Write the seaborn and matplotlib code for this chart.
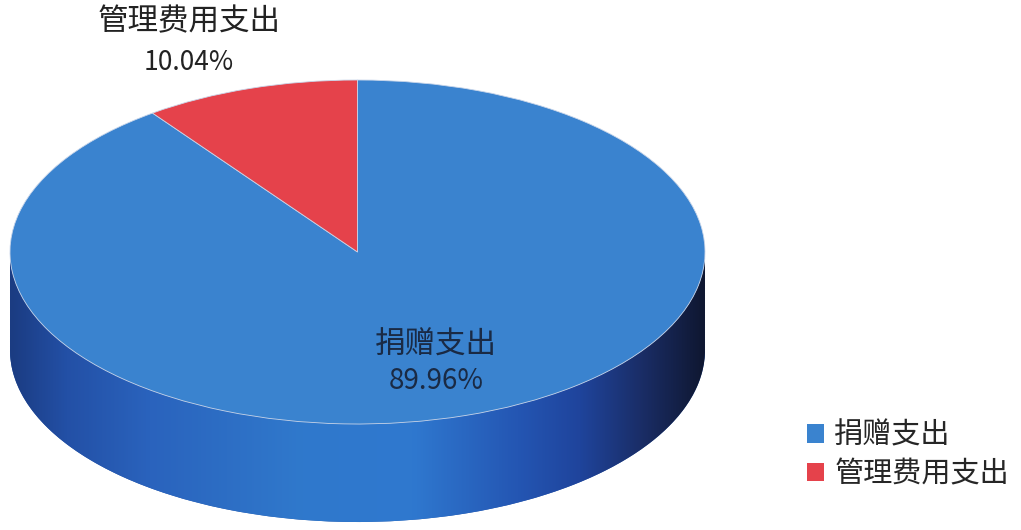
import numpy as np
import seaborn as sns
import matplotlib.pyplot as plt
from matplotlib.path import Path
from matplotlib.colors import LinearSegmentedColormap

# Data
categories = ["捐赠支出", "管理费用支出"]
shares = [89.96, 10.04]
colors = ["#3a83cf", "#e5424b"]

sns.set_theme(style="white")
plt.rcParams['font.family'] = ['Noto Sans CJK SC', 'DejaVu Sans']

W, H = 1021, 530
fig = plt.figure(figsize=(W / 100, H / 100), dpi=100)
ax = fig.add_axes([0, 0, 1, 1])

# pixel-based layout; y squashed so the pie becomes an ellipse
cx, cy_px = 357.5, 252
rx, ry = 347.5, 172
depth_px = 98
k = ry / rx


def ypx(py):
    return (H - py) / k


cy = ypx(cy_px)
depth = depth_px / k

# side of the cylinder: stacked pies from the same data
n_layers = 40
for i in range(n_layers, 0, -1):
    off = depth * i / n_layers
    ax.pie(shares, colors=["#2456a8", "#a02a30"], startangle=90, counterclock=False,
           radius=rx, center=(cx, cy - off), frame=True,
           wedgeprops=dict(linewidth=0, antialiased=True))

# shading of the visible side band
t = np.linspace(np.pi, 2 * np.pi, 200)
top_arc = np.column_stack([cx + rx * np.cos(t), cy + rx * np.sin(t)])
bot_arc = np.column_stack([cx + rx * np.cos(t[::-1]), cy - depth + rx * np.sin(t[::-1])])
verts = np.vstack([top_arc, bot_arc, top_arc[:1]])
side_path = Path(verts)
shade = LinearSegmentedColormap.from_list("side", [
    (0.00, "#1b3c82"), (0.08, "#2350a6"), (0.20, "#2a63bd"), (0.42, "#3079cc"),
    (0.58, "#2f78cf"), (0.73, "#2456b3"), (0.82, "#1f449c"), (0.91, "#1a2d66"),
    (1.00, "#0f1730")])
grad = np.linspace(0, 1, 256).reshape(1, -1)
im = ax.imshow(grad, cmap=shade, aspect='auto',
               extent=(cx - rx, cx + rx, cy - depth - rx, cy), zorder=2)
im.set_clip_path(side_path, transform=ax.transData)

# top face
wedges, _ = ax.pie(shares, colors=colors, startangle=90, counterclock=False,
                   radius=rx, center=(cx, cy), frame=True,
                   wedgeprops=dict(linewidth=0.6, edgecolor="#c9d6ea", antialiased=True))
for w in wedges:
    w.set_zorder(3)

ax.set_aspect('auto')
ax.set_xlim(0, W)
ax.set_ylim(0, H / k)
ax.axis('off')

# labels
ax.text(189, ypx(22), categories[1], ha='center', va='center',
        fontsize=22, color="#222222", zorder=5)
ax.text(189, ypx(63), f"{shares[1]:.2f}%", ha='center', va='center',
        fontsize=19, color="#222222", zorder=5)
ax.text(436, ypx(345), categories[0], ha='center', va='center',
        fontsize=22, color="#1a2a44", zorder=5)
ax.text(436, ypx(381), f"{shares[0]:.2f}%", ha='center', va='center',
        fontsize=20, color="#1a2a44", zorder=5)

leg = ax.legend(wedges, categories, loc='center left', bbox_to_anchor=(795 / W, 1 - 455 / H),
                frameon=False, fontsize=21, handlelength=0.6, handleheight=0.6,
                handletextpad=0.35, labelspacing=0.3, borderaxespad=0)
for h in leg.legend_handles:
    h.set_edgecolor("none")

fig.savefig("out.png", dpi=100, facecolor="white")
